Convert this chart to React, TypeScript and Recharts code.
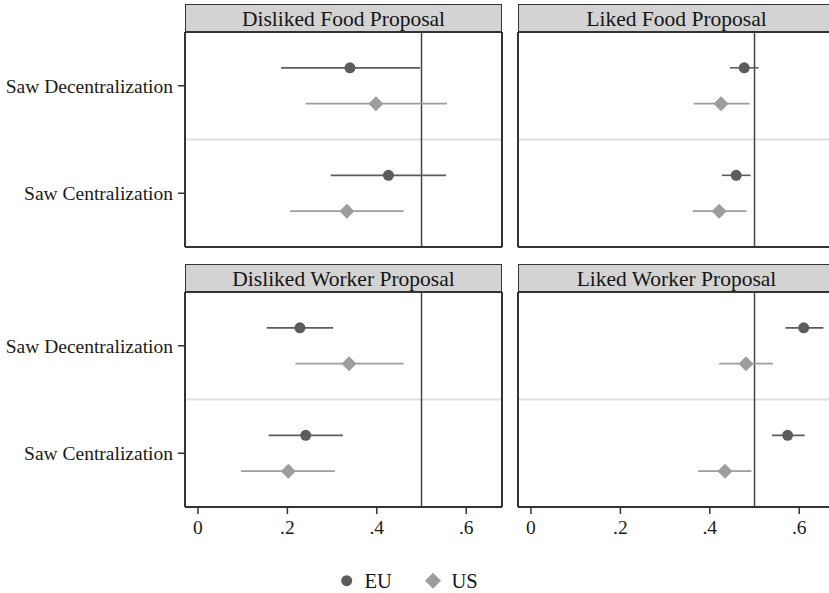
import React from "react";
import {
  ScatterChart,
  Scatter,
  XAxis,
  YAxis,
  ErrorBar,
  ReferenceLine,
} from "recharts";

const panelTitles = [
  "Disliked Food Proposal",
  "Liked Food Proposal",
  "Disliked Worker Proposal",
  "Liked Worker Proposal",
];
const rowLabels = ["Saw Decentralization", "Saw Centralization"];
const groupNames = ["EU", "US"];
const xTicks = [0, 0.2, 0.4, 0.6];

// estimates per panel, each as [decentralization, centralization]
const euMean = [
  [0.34, 0.426],
  [0.477, 0.459],
  [0.228, 0.241],
  [0.61, 0.574],
];
const euLow = [
  [0.186, 0.297],
  [0.445, 0.427],
  [0.154, 0.158],
  [0.569, 0.539],
];
const euHigh = [
  [0.497, 0.555],
  [0.509, 0.491],
  [0.302, 0.324],
  [0.654, 0.612],
];
const usMean = [
  [0.398, 0.333],
  [0.425, 0.421],
  [0.338, 0.202],
  [0.481, 0.434],
];
const usLow = [
  [0.241, 0.206],
  [0.364, 0.362],
  [0.218, 0.096],
  [0.421, 0.374],
];
const usHigh = [
  [0.557, 0.46],
  [0.489, 0.482],
  [0.46, 0.306],
  [0.541, 0.493],
];

const FONT = "'Liberation Serif', 'Times New Roman', serif";
const EU_COLOR = "#5c5c5c";
const US_COLOR = "#9d9d9d";
const FRAME = "#333";
const X_MIN = -0.029;
const X_MAX = 0.68;

const PLOT_W = 317;
const PLOT_H = 215;
const HEADER_H = 28;
const LABEL_W = 185;
const colLeft = [185, 518];
const rowTop = [32, 292];

// each row block spans 3 slots: EU, US, then the divider
const slot = (row: number, group: number) => row * 3 + 1 + group;

function buildSeries(mean: number[], low: number[], high: number[], group: number) {
  return mean.map((m, row) => ({
    x: m,
    y: slot(row, group),
    err: [m - low[row], high[row] - m],
  }));
}

const Dot = (props: any) => (
  <circle cx={props.cx} cy={props.cy} r={5.5} fill={EU_COLOR} />
);

const Diamond = (props: any) => {
  const { cx, cy } = props;
  const h = 7.5;
  return (
    <polygon
      points={`${cx},${cy - h} ${cx + h},${cy} ${cx},${cy + h} ${cx - h},${cy}`}
      fill={US_COLOR}
    />
  );
};

const fmtX = (v: number) => (v === 0 ? "0" : String(v).replace(/^0/, ""));

function Panel({ index }: { index: number }) {
  const col = index % 2;
  const row = Math.floor(index / 2);
  const showY = col === 0;
  const showX = row === 1;
  const axisW = showY ? LABEL_W : 10;
  const xAxisH = showX ? 40 : 1;
  const left = colLeft[col];
  const top = rowTop[row];

  const eu = buildSeries(euMean[index], euLow[index], euHigh[index], 0);
  const us = buildSeries(usMean[index], usLow[index], usHigh[index], 1);

  return (
    <>
      <div
        style={{
          position: "absolute",
          left,
          top: top - HEADER_H,
          width: PLOT_W,
          height: HEADER_H,
          boxSizing: "border-box",
          border: `1.5px solid ${FRAME}`,
          borderBottom: "none",
          background: "#d3d3d3",
          textAlign: "center",
          fontSize: 21.5,
          lineHeight: `${HEADER_H}px`,
          color: "#151515",
        }}
      >
        {panelTitles[index]}
      </div>
      <div style={{ position: "absolute", left: left - axisW, top: top - 1 }}>
        <ScatterChart
          width={axisW + PLOT_W + 2}
          height={1 + PLOT_H + xAxisH}
          margin={{ top: 1, right: 2, bottom: 0, left: 0 }}
        >
          <XAxis
            type="number"
            dataKey="x"
            domain={[X_MIN, X_MAX]}
            allowDataOverflow
            ticks={xTicks}
            interval={0}
            height={xAxisH}
            tick={showX ? { fontFamily: FONT, fontSize: 19.5, fill: "#1a1a1a" } : false}
            tickLine={showX ? { stroke: FRAME, strokeWidth: 1.5 } : false}
            tickSize={7}
            tickMargin={6}
            tickFormatter={fmtX}
            axisLine={{ stroke: FRAME, strokeWidth: 2 }}
          />
          <YAxis
            type="number"
            dataKey="y"
            domain={[0, 6]}
            reversed
            allowDataOverflow
            ticks={[1.5, 4.5]}
            interval={0}
            width={axisW}
            tick={showY ? { fontFamily: FONT, fontSize: 19.5, fill: "#1a1a1a" } : false}
            tickLine={showY ? { stroke: FRAME, strokeWidth: 1.5 } : false}
            tickSize={7}
            tickMargin={5}
            tickFormatter={(v: number) => rowLabels[v < 3 ? 0 : 1]}
            axisLine={{ stroke: FRAME, strokeWidth: 2 }}
          />
          <ReferenceLine y={3} stroke="#e0e0e0" strokeWidth={2} />
          <ReferenceLine x={0.5} stroke="#444" strokeWidth={1.5} />
          <ReferenceLine y={0} stroke={FRAME} strokeWidth={2} />
          <ReferenceLine x={X_MAX} stroke={FRAME} strokeWidth={2} />
          <Scatter
            name={groupNames[0]}
            data={eu}
            fill={EU_COLOR}
            shape={Dot}
            isAnimationActive={false}
          >
            <ErrorBar
              dataKey="err"
              direction="x"
              width={0}
              stroke={EU_COLOR}
              strokeWidth={1.6}
              isAnimationActive={false}
            />
          </Scatter>
          <Scatter
            name={groupNames[1]}
            data={us}
            fill={US_COLOR}
            shape={Diamond}
            isAnimationActive={false}
          >
            <ErrorBar
              dataKey="err"
              direction="x"
              width={0}
              stroke={US_COLOR}
              strokeWidth={1.6}
              isAnimationActive={false}
            />
          </Scatter>
        </ScatterChart>
      </div>
    </>
  );
}

function KeyBox() {
  return (
    <svg
      width={170}
      height={30}
      style={{ position: "absolute", left: 330, top: 566 }}
    >
      <circle cx={16.7} cy={14.7} r={5.5} fill={EU_COLOR} />
      <text x={34.5} y={21.7} fontFamily={FONT} fontSize={20.5} fill="#151515">
        {groupNames[0]}
      </text>
      <polygon
        points="103,6.7 111,14.7 103,22.7 95,14.7"
        fill={US_COLOR}
      />
      <text x={121.5} y={21.7} fontFamily={FONT} fontSize={20.5} fill="#151515">
        {groupNames[1]}
      </text>
    </svg>
  );
}

export default function App() {
  return (
    <div
      style={{
        position: "absolute",
        left: 0,
        top: 0,
        width: 829,
        height: 593,
        overflow: "hidden",
        background: "#fff",
        fontFamily: FONT,
      }}
    >
      {panelTitles.map((_, i) => (
        <Panel key={i} index={i} />
      ))}
      <KeyBox />
    </div>
  );
}
